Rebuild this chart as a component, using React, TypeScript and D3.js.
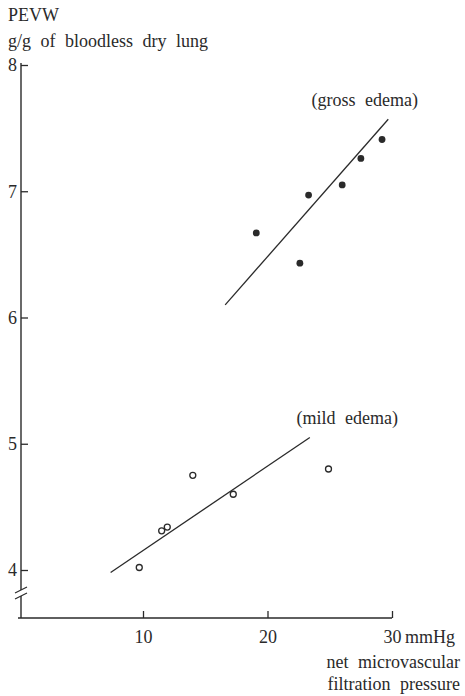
import React, { useEffect, useRef } from "react";
import * as d3 from "d3";

// gross edema (filled dots)
const grossX = [19.1, 22.6, 23.3, 26.0, 27.5, 29.2];
const grossY = [6.67, 6.43, 6.97, 7.05, 7.26, 7.41];
const grossFitX = [16.6, 29.7];
const grossFitY = [6.1, 7.57];

// mild edema (open dots)
const mildX = [9.7, 11.5, 11.95, 14.0, 17.25, 24.9];
const mildY = [4.02, 4.31, 4.34, 4.75, 4.6, 4.8];
const mildFitX = [7.4, 23.4];
const mildFitY = [3.98, 5.05];

const xTicks = [10, 20, 30];
const yTicks = [4, 5, 6, 7, 8];

const FONT = "Liberation Serif";
const INK = "#2a2a2a";

const App = () => {
  const ref = useRef<SVGSVGElement>(null);

  useEffect(() => {
    const width = 465;
    const height = 696;
    const axisX = 21;
    const axisY = 618;

    const x = d3.scaleLinear().domain([0, 30]).range([18.5, 392]);
    const y = d3.scaleLinear().domain([4, 8]).range([570, 65]);

    const svg = d3
      .select(ref.current)
      .attr("width", width)
      .attr("height", height)
      .attr("viewBox", [0, 0, width, height]);

    svg.selectAll("*").remove();
    svg.append("rect").attr("width", width).attr("height", height).attr("fill", "white");

    // Y axis with inward ticks
    svg
      .append("g")
      .attr("transform", `translate(${axisX},0)`)
      .call(d3.axisLeft(y).tickValues(yTicks).tickSize(-7).tickPadding(4).tickFormat(d3.format("d")))
      .call((g) => g.select(".domain").remove())
      .call((g) => g.selectAll("line").attr("stroke", INK).attr("stroke-width", 1.3))
      .call((g) =>
        g.selectAll("text").attr("font-family", FONT).attr("font-size", 18).attr("fill", INK)
      );

    // y axis line with break
    const breakY = 593;
    svg
      .append("line")
      .attr("x1", axisX)
      .attr("x2", axisX)
      .attr("y1", y(8) - 2)
      .attr("y2", breakY - 3)
      .attr("stroke", INK)
      .attr("stroke-width", 1.4);
    svg
      .append("line")
      .attr("x1", axisX)
      .attr("x2", axisX)
      .attr("y1", breakY + 3)
      .attr("y2", axisY)
      .attr("stroke", INK)
      .attr("stroke-width", 1.4);
    [-3, 3].forEach((o) => {
      svg
        .append("line")
        .attr("x1", axisX - 6)
        .attr("y1", breakY + o + 3)
        .attr("x2", axisX + 6)
        .attr("y2", breakY + o - 3)
        .attr("stroke", INK)
        .attr("stroke-width", 1.2);
    });

    // X axis with upward ticks
    svg
      .append("g")
      .attr("transform", `translate(0,${axisY})`)
      .call(d3.axisBottom(x).tickValues(xTicks).tickSize(-7).tickPadding(12).tickFormat(d3.format("d")))
      .call((g) => g.select(".domain").remove())
      .call((g) => g.selectAll("line").attr("stroke", INK).attr("stroke-width", 1.3))
      .call((g) =>
        g.selectAll("text").attr("font-family", FONT).attr("font-size", 18).attr("fill", INK)
      );
    svg
      .append("line")
      .attr("x1", axisX - 3)
      .attr("x2", x(30))
      .attr("y1", axisY)
      .attr("y2", axisY)
      .attr("stroke", INK)
      .attr("stroke-width", 1.4);

    // letter-spacing swaps the font here, so widen with a little word-spacing only
    const text = (tx: number, ty: number, s: string, len?: number, anchor = "start") => {
      const t = svg
        .append("text")
        .attr("x", tx)
        .attr("y", ty)
        .attr("font-family", FONT)
        .attr("font-size", 18)
        .attr("fill", INK)
        .attr("text-anchor", anchor)
        .text(s);
      const gaps = s.split(" ").length - 1;
      if (len && gaps > 0) {
        const natural = (t.node() as SVGTextElement).getComputedTextLength();
        const ws = Math.min(5, (len - natural) / gaps);
        if (ws > 0) t.attr("word-spacing", ws.toFixed(2));
      }
      return t;
    };

    // axis titles
    text(8, 21, "PEVW");
    text(8, 47, "g/g of bloodless dry lung", 254);
    text(405, 643, "mmHg");
    text(460, 668, "net microvascular", 157, "end");
    text(460, 690, "filtration pressure", 158, "end");

    // group labels
    text(418, 106, "(gross edema)", 130, "end");
    text(398, 424, "(mild edema)", 120, "end");

    // regression lines
    const drawFit = (xs: number[], ys: number[]) => {
      svg
        .append("path")
        .attr(
          "d",
          d3
            .line<number>()
            .x((d) => x(d))
            .y((d, i) => y(ys[i]))(xs)
        )
        .attr("fill", "none")
        .attr("stroke", INK)
        .attr("stroke-width", 1.3);
    };
    drawFit(grossFitX, grossFitY);
    drawFit(mildFitX, mildFitY);

    // points
    svg
      .append("g")
      .selectAll("circle")
      .data(grossX)
      .join("circle")
      .attr("cx", (d) => x(d))
      .attr("cy", (d, i) => y(grossY[i]))
      .attr("r", 3.4)
      .attr("fill", INK);

    svg
      .append("g")
      .selectAll("circle")
      .data(mildX)
      .join("circle")
      .attr("cx", (d) => x(d))
      .attr("cy", (d, i) => y(mildY[i]))
      .attr("r", 3)
      .attr("fill", "white")
      .attr("stroke", INK)
      .attr("stroke-width", 1.3);
  }, []);

  return (
    <svg
      ref={ref}
      style={{ position: "absolute", left: 0, top: 0, display: "block" }}
    ></svg>
  );
};

export default App;
